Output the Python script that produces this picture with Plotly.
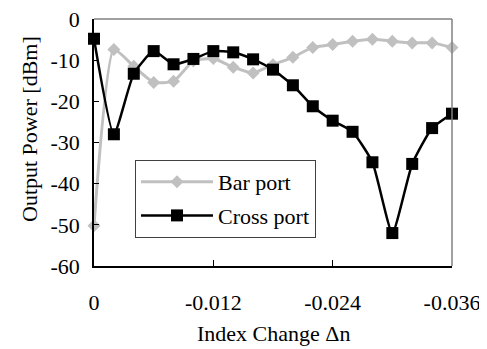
import plotly.graph_objects as go

index_change = [0, -0.002, -0.004, -0.006, -0.008, -0.010, -0.012, -0.014, -0.016, -0.018,
                -0.020, -0.022, -0.024, -0.026, -0.028, -0.030, -0.032, -0.034, -0.036]
bar_port = [-50.2, -7.4, -11.5, -15.4, -15.1, -10.2, -9.6, -11.7, -13.1, -11.1,
            -9.3, -6.9, -6.2, -5.4, -4.9, -5.4, -5.8, -5.8, -6.9]
cross_port = [-4.8, -28.0, -13.3, -7.8, -11.0, -9.7, -7.8, -8.1, -9.8, -12.3,
              -16.1, -21.2, -24.7, -27.4, -34.8, -52.0, -35.2, -26.5, -23.0]

x_ticks = [0, -0.012, -0.024, -0.036]
x_tick_text = ["0", "-0.012", "-0.024", "-0.036"]
y_ticks = [0, -10, -20, -30, -40, -50, -60]
y_tick_text = ["0", "-10", "-20", "-30", "-40", "-50", "-60"]

FONT = "Liberation Serif"
F = dict(family=FONT, size=22, color="black")

# page body has an 8px default margin; compensate so the chart lands near 0,0 of the window
OFF = 8
W, H = 487 - OFF, 349 - OFF
L, R, T, B = 94 - OFF, 35, 19 - OFF, 83
PW, PH = W - L - R, H - T - B

fig = go.Figure()
fig.add_trace(go.Scatter(
    x=index_change, y=bar_port, name="Bar port", mode="lines+markers",
    line=dict(color="#C0C0C0", width=3, shape="spline", smoothing=0.5),
    marker=dict(symbol="diamond", size=10, color="#C0C0C0"),
    legendgroup="a", cliponaxis=False))
fig.add_trace(go.Scatter(
    x=index_change, y=cross_port, name="Cross port", mode="lines+markers",
    line=dict(color="black", width=2.5, shape="spline", smoothing=0.5),
    marker=dict(symbol="square", size=12, color="black"),
    legendgroup="b", cliponaxis=False))


def px_x(x):  # window pixel -> paper x
    return (x - OFF - L) / PW


def px_y(y):  # window pixel -> paper y
    return 1 - (y - OFF - T) / PH


fig.update_layout(
    width=W, height=H,
    margin=dict(l=L, r=R, t=T, b=B, autoexpand=False),
    paper_bgcolor="white", plot_bgcolor="white",
    font=F,
    showlegend=True,
    legend=dict(x=px_x(135), y=px_y(160), xanchor="left", yanchor="top",
                bordercolor="#404040", borderwidth=1, bgcolor="white",
                font=F, tracegroupgap=2, itemwidth=72,
                traceorder="grouped"),
    xaxis=dict(range=[0, -0.036], tickvals=x_ticks, ticktext=x_tick_text,
               showgrid=False, zeroline=False, showline=True, linecolor="black",
               linewidth=1.5, ticks="inside", ticklen=6, tickcolor="black",
               tickfont=F, ticklabelstandoff=16, automargin=False,
               ticklabeloverflow="allow"),
    yaxis=dict(range=[-60, 0], tickvals=y_ticks, ticktext=y_tick_text,
               showgrid=False, zeroline=False, showline=True, linecolor="black",
               linewidth=1.5, ticks="inside", ticklen=5, tickcolor="black",
               tickfont=F, ticklabelstandoff=8, automargin=False,
               ticklabeloverflow="allow"),
    shapes=[
        dict(type="line", xref="paper", yref="paper", x0=0, x1=1, y0=1, y1=1,
             line=dict(color="#808080", width=1.5)),
        dict(type="line", xref="paper", yref="paper", x0=1, x1=1, y0=0, y1=1,
             line=dict(color="#808080", width=1.5)),
    ],
    annotations=[
        dict(text="Index Change Δn", xref="paper", yref="paper",
             x=0.5, y=px_y(333), xanchor="center", yanchor="middle",
             showarrow=False, font=F),
        dict(text="Output Power [dBm]", xref="paper", yref="paper",
             x=px_x(29), y=px_y(129), xanchor="center", yanchor="middle",
             textangle=-90, showarrow=False, font=F),
    ],
)

fig.write_html("out.html")
